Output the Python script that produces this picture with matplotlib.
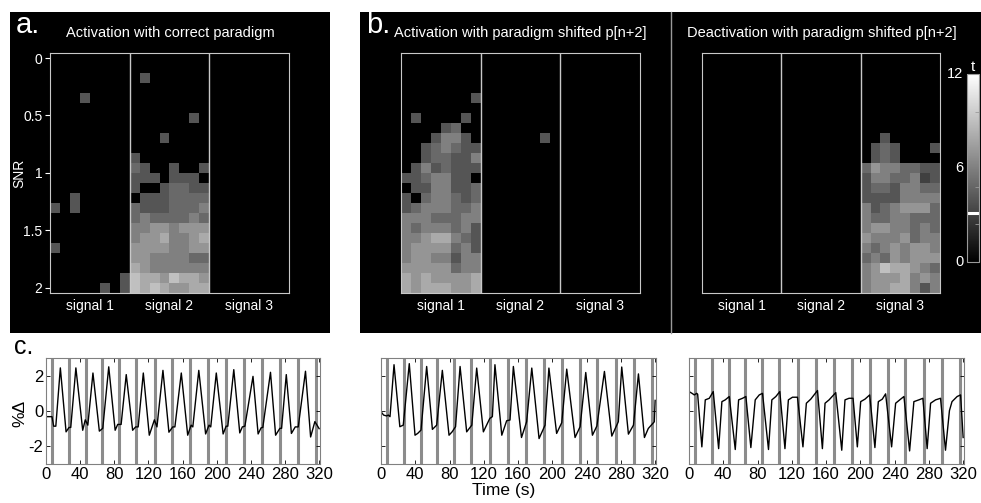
import numpy as np
import matplotlib.pyplot as plt
from matplotlib.patches import Rectangle
from matplotlib.lines import Line2D

plt.rcParams['font.family'] = ['Liberation Sans', 'DejaVu Sans']
plt.rcParams['axes.unicode_minus'] = False

W, H = 981, 503

# t maps: 24 SNR rows (0..2) x (8 voxels per signal x 3 signals); each digit = t value, 0 = below threshold
act_correct = [
    "00000000 00000000 00000000",
    "00000000 00000000 00000000",
    "00000000 04000000 00000000",
    "00000000 00000000 00000000",
    "00040000 00000000 00000000",
    "00000000 00000000 00000000",
    "00000000 00000040 00000000",
    "00000000 00000000 00000000",
    "00000000 00040000 00000000",
    "00000000 00000000 00000000",
    "00000000 40000000 00000000",
    "00000000 54004004 00000000",
    "00000000 44404440 00000000",
    "00000000 40045544 00000000",
    "00400000 04445555 00000000",
    "40400000 54445556 00000000",
    "00000000 56555565 00000000",
    "00000000 66776777 00000000",
    "00000000 67786678 00000000",
    "40000000 77776677 00000000",
    "00000000 77666655 00000000",
    "00000000 87666666 00000000",
    "00000004 98879887 00000000",
    "00000404 98987788 00000000",
]
act_shifted = [
    "00000000 00000000 00000000",
    "00000000 00000000 00000000",
    "00000000 00000000 00000000",
    "00000000 00000000 00000000",
    "00000004 00000000 00000000",
    "00000000 00000000 00000000",
    "04000040 00000000 00000000",
    "00004500 00000000 00000000",
    "00046640 00000040 00000000",
    "00456544 00000000 00000000",
    "00455446 00000000 00000000",
    "04645444 00000000 00000000",
    "44566440 00000000 00000000",
    "04466445 00000000 00000000",
    "40566545 00000000 00000000",
    "45666556 00000000 00000000",
    "66655566 00000000 00000000",
    "65666564 00000000 00000000",
    "66788654 00000000 00000000",
    "67777564 00000000 00000000",
    "67766466 00000000 00000000",
    "77777566 00000000 00000000",
    "87877778 00000000 00000000",
    "87888778 00000000 00000000",
]
deact_shifted = [
    "00000000 00000000 00000000",
    "00000000 00000000 00000000",
    "00000000 00000000 00000000",
    "00000000 00000000 00000000",
    "00000000 00000000 00000000",
    "00000000 00000000 00000000",
    "00000000 00000000 00000000",
    "00000000 00000000 00000000",
    "00000000 00000000 00400000",
    "00000000 00000000 04540004",
    "00000000 00000000 04540000",
    "00000000 00000000 57665544",
    "00000000 00000000 46655634",
    "00000000 00000000 45546655",
    "00000000 00000000 44446666",
    "00000000 00000000 64567775",
    "00000000 00000000 65566555",
    "00000000 00000000 67766565",
    "00000000 00000000 76667566",
    "00000000 00000000 65676776",
    "00000000 00000000 56576777",
    "00000000 00000000 67988765",
    "00000000 00000000 67778676",
    "00000000 00000000 67788646",
]

snr_ticks = [0, 0.5, 1, 1.5, 2]
snr_labels = ['0', '0.5', '1', '1.5', '2']
signal_labels = ['signal 1', 'signal 2', 'signal 3']
t_max = 12
t_thresh = 3.1
cbar_labels = [0, 6, 12]

# paradigm events (s) and time courses (s, %change)
events = [7.5, 26.5, 47, 65.5, 85.5, 105.5, 127.5, 148, 169, 190, 211, 232, 252.5, 274, 295, 316]
time_ticks = [0, 40, 80, 120, 160, 200, 240, 280, 320]
pct_ticks = [-2, 0, 2]

ts_correct = [
    (0, -0.32), (7, -0.32), (9, -0.86), (11.5, -0.86), (16.8, 2.44), (23.5, -1.18), (27, -0.93), (29, -0.93),
    (35, 2.44), (43, -1.09), (46, -0.5), (49, -0.8), (55, 2.15), (62.5, -1.14), (66.5, -0.98),
    (73.5, 2.5), (81, -1.09), (84, -0.76), (88, -0.76), (94, 2.06), (101.5, -1.09), (105, -0.9), (108, -0.9),
    (114, 2.15), (121, -1.37), (127, -0.5), (130, -0.9), (137, 2.3), (144, -1.2), (148.5, -0.9), (151, -0.9),
    (158.5, 2.15), (166, -1.37), (170, -0.8), (172, -0.9), (179, 2.3), (187, -1.3), (191, -0.8), (193, -0.9),
    (199.5, 2.15), (207.5, -1.3), (211, -0.86), (213, -0.86), (220, 2.34), (227, -1.24), (230, -0.9), (233, -0.86),
    (242.5, 1.96), (248.5, -1.3), (252, -0.95), (254, -0.93), (263, 2.19), (269, -1.37), (274, -0.98), (276, -0.98),
    (281.5, 2.06), (287.5, -1.27), (292, -0.9), (295.5, -0.9), (304, 2.25), (310, -1.47), (315, -0.6), (320, -1.0),
]
ts_shift_act = [
    (0, -0.04), (3, -0.23), (6.5, -0.28), (8.5, -0.23), (10.5, -0.32), (15.2, 2.62), (22, -0.89), (26, -0.8),
    (33, 2.68), (39.7, -1.37), (42.8, -1.27), (46.7, -1.08), (53.3, 2.52), (60, -1.04), (65, -0.8),
    (71.6, 2.3), (79.4, -1.37), (83, -1.18), (87, -0.89), (92.3, 2.52), (100, -1.18), (106, -0.8),
    (111.7, 2.43), (119.5, -1.18), (127, -0.42), (130, -0.32), (133, 2.62), (141, -1.37), (146.7, -0.55),
    (150.6, -0.51), (154.5, 2.52), (164, -1.5), (170, -0.61), (176, 2.43), (184.5, -1.56), (191.5, -0.8),
    (196, 2.43), (205, -1.27), (211, -0.66), (216.8, 2.37), (226.5, -1.5), (232.4, -0.89), (239, 2.18),
    (246.8, -1.37), (252, -0.85), (260.8, 2.24), (269.4, -1.42), (277, -0.61), (281, 2.49), (288.8, -1.31),
    (294.7, -0.8), (300.5, 2.1), (307.5, -1.5), (312, -0.99), (319, -0.61), (320, 0.6),
]
ts_shift_deact = [
    (0, 1.1), (3.5, 1.0), (6.2, 0.91), (9, 1.0), (10.1, 0.95), (15, -2.03), (19, 0.63), (23.7, 0.72),
    (28.3, 1.1), (34.6, -2.13), (38.4, 0.53), (42.3, 0.63), (47, 0.82), (54, -2.18), (57.9, 0.63),
    (62.5, 0.72), (66.4, 0.82), (72.2, -2.07), (77.3, 0.63), (82, 0.91), (85.8, 1.0), (92.8, -2.18),
    (96.7, 0.63), (101.4, 0.82), (106, 1.1), (112, -2.13), (116, 0.63), (120.8, 0.78), (126.6, 0.78),
    (133, -2.03), (137, 0.44), (142.1, 0.67), (150, 1.16), (155.7, -2.13), (158.8, 0.44), (163.5, 0.63),
    (171.3, 1.04), (178.3, -2.22), (182.1, 0.63), (186.8, 0.72), (191.5, 0.72), (196.5, -2.03), (200.4, 0.53),
    (205.4, 0.67), (210.9, 0.91), (217, -2.07), (221, 0.53), (225.6, 0.67), (229.5, 0.97), (236.5, -2.03),
    (241.2, 0.44), (247, 0.67), (250.9, 0.82), (257.5, -2.26), (262.5, 0.53), (268.3, 0.63), (273, 0.72),
    (278, -2.13), (282, 0.44), (287.8, 0.63), (293.6, 0.72), (299.4, -2.22), (304, 0.02), (307, 0.53),
    (313, 0.82), (317, 0.91), (320, -1.5),
]


def box(x0, y0, x1, y1):
    # pixel box (top-left origin) -> figure fraction rect
    return [x0 / W, 1 - y1 / H, (x1 - x0) / W, (y1 - y0) / H]


def fxy(x, y):
    return x / W, 1 - y / H


def to_grid(rows):
    return np.array([[int(c) for c in r.replace(' ', '')] for r in rows], dtype=float)


fig = plt.figure(figsize=(W / 100, H / 100), dpi=100, facecolor='white')

# black backgrounds for the map panels
for x0, x1 in [(10, 330), (360, 981)]:
    fig.add_artist(Rectangle(fxy(x0, 333), (x1 - x0) / W, 321 / H, transform=fig.transFigure,
                             facecolor='black', edgecolor='none', zorder=-5))
fig.add_artist(Line2D([671 / W, 671 / W], [1 - 12 / H, 1 - 333 / H], transform=fig.transFigure,
                      color='#9a9a9a', lw=1))


def tmap(rect, rows, show_y):
    ax = fig.add_axes(box(*rect))
    n = len(rows)
    half = 1 / (n - 1)
    im = ax.imshow(to_grid(rows), cmap='gray', vmin=0, vmax=t_max, aspect='auto',
                   interpolation='nearest', extent=(0, 3, 2 + half, -half))
    for xv in (1, 2):
        ax.axvline(xv, color='#c8c8c8', lw=1)
    ax.set_xlim(0, 3)
    ax.set_ylim(2 + half, -half)
    ax.set_xticks([0.5, 1.5, 2.5], signal_labels)
    ax.tick_params(axis='x', length=0, colors='white', labelsize=10, pad=4)
    if show_y:
        ax.set_yticks(snr_ticks, snr_labels)
        ax.tick_params(axis='y', direction='out', length=3.5, width=0.8, colors='white', labelsize=10, pad=2)
        ax.set_ylabel('SNR', color='white', fontsize=10)
        ax.yaxis.set_label_coords(-0.10, 0.5)
    else:
        ax.set_yticks([])
    for s in ax.spines.values():
        s.set_color('#c8c8c8')
    ax.set_facecolor('black')
    return ax, im


tmap((50, 53, 289, 293), act_correct, True)
tmap((401, 53, 640, 293), act_shifted, False)
ax_d, im_d = tmap((702, 53, 940, 293), deact_shifted, False)

fig.text(*fxy(170, 33), 'Activation with correct paradigm', color='white', fontsize=10.5, ha='center', va='center')
fig.text(*fxy(520, 33), 'Activation with paradigm shifted p[n+2]', color='white', fontsize=10.5, ha='center', va='center')
fig.text(*fxy(822, 33), 'Deactivation with paradigm shifted p[n+2]', color='white', fontsize=10.5, ha='center', va='center')
fig.text(*fxy(16, 33), 'a.', color='white', fontsize=21, ha='left', va='baseline')
fig.text(*fxy(366, 33), 'b.', color='white', fontsize=21, ha='left', va='baseline')
fig.text(*fxy(14, 354), 'c.', color='black', fontsize=18, ha='left', va='baseline')

# colour bar
cax = fig.add_axes(box(967, 74, 979, 262))
cb = fig.colorbar(im_d, cax=cax)
cb.set_ticks(np.linspace(0, t_max, 6))
cax.tick_params(labelright=False, length=3, width=0.6, direction='in', colors='#9a9a9a')
cb.outline.set_edgecolor('#9a9a9a')
cax.axhline(t_thresh, color='white', lw=2.2)
for v in cbar_labels:
    cax.text(-0.3, v, str(v), transform=cax.get_yaxis_transform(), color='white',
             fontsize=10.5, ha='right', va='center')
fig.text(*fxy(973, 67), 't', color='white', fontsize=11, ha='center', va='center')


def trace(rect, pts, show_y):
    ax = fig.add_axes(box(*rect))
    for e in events:
        ax.axvline(e, color='#8c8c8c', lw=2.2, zorder=1)
    t, v = zip(*pts)
    ax.plot(t, v, color='black', lw=1.0, zorder=2)
    ax.set_xlim(0, 321)
    ax.set_ylim(-3, 3)
    ax.set_xticks(time_ticks)
    ax.set_yticks(pct_ticks)
    if not show_y:
        ax.set_yticklabels([])
    ax.tick_params(direction='in', length=3, width=0.6, top=True, right=True, labelsize=12, pad=2)
    for s in ax.spines.values():
        s.set_color('#808080')
    return ax


trace((46, 358, 320, 464), ts_correct, True)
trace((381, 358, 656, 464), ts_shift_act, False)
trace((689, 358, 964, 464), ts_shift_deact, False)

fig.text(*fxy(20, 413), '%\u0394', fontsize=12.5, rotation=90, ha='center', va='center')
fig.text(*fxy(504, 491), 'Time (s)', fontsize=12.5, ha='center', va='center')

fig.savefig('out.png', dpi=100, facecolor='white')
